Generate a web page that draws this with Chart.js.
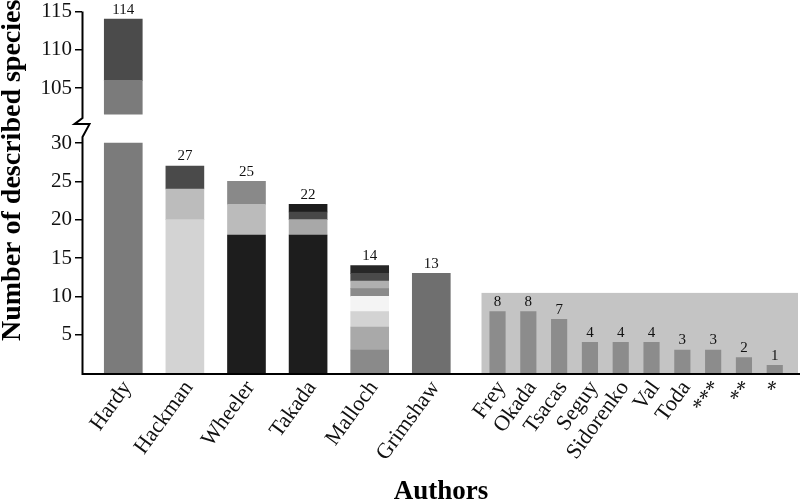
<!DOCTYPE html>
<html>
<head>
<meta charset="utf-8">
<style>
  html, body { margin: 0; padding: 0; background: #ffffff; }
  #wrap { width: 800px; height: 501px; }
</style>
<script src="https://cdn.jsdelivr.net/npm/chart.js@4/dist/chart.umd.min.js"></script>
</head>
<body>
<div id="wrap"><canvas id="c" width="800" height="501"></canvas></div>
<script>
// ---------------- DATA ----------------
const bigAuthors = ['Hardy', 'Hackman', 'Wheeler', 'Takada', 'Malloch', 'Grimshaw'];
const smallAuthors = ['Frey', 'Okada', 'Tsacas', 'Seguy', 'Sidorenko', 'Val', 'Toda', '***', '**', '*'];

// species per sub-group, stacked from the bottom
const hardySegments    = [106, 8];
const hackmanSegments  = [20, 4, 3];
const wheelerSegments  = [18, 4, 3];
const takadaSegments   = [18, 2, 1, 1];
const mallochSegments  = [3, 3, 2, 2, 1, 1, 1, 1];
const grimshawSegments = [13];

const smallTotals = [8, 8, 7, 4, 4, 4, 3, 3, 2, 1];

const lowerTickLabels = [5, 10, 15, 20, 25, 30];
const upperTickLabels = [105, 110, 115];

const xTitle = 'Authors';
const yTitle = 'Number of described species';

// ---------------- STYLE / LAYOUT ----------------
const segmentColors = [
  ['#7b7b7b', '#4b4b4b'],
  ['#d3d3d3', '#bcbcbc', '#4a4a4a'],
  ['#1d1d1d', '#bbbbbb', '#898989'],
  ['#1d1d1d', '#a8a8a8', '#474747', '#1d1d1d'],
  ['#8a8a8a', '#a9a9a9', '#d3d3d3', '#f4f4f4', '#8a8a8a', '#b0b0b0', '#4a4a4a', '#272727'],
  ['#6f6f6f']
];
const smallColor = '#8c8c8c';
const insetColor = '#c4c4c4';
const SERIF = '"Liberation Serif", "Times New Roman", serif';

// broken axis
const BREAK_LOW = 30;      // lower part ends here
const BREAK_HIGH = 101.6;  // upper part starts here
const SHIFT = 67.83;       // display = value - SHIFT in the upper part
const toDisplay = v => (v <= BREAK_LOW ? v : v - SHIFT);
const Y_MAX = toDisplay(115);
const INSET_TOP = 10.45;

// x layout (slot units)
const SMALL_START = 12.15;
const X_MIN = -1.34, X_MAX = 21.97;
const bigPos = bigAuthors.map((_, i) => 2 * i);
const smallPos = smallAuthors.map((_, j) => SMALL_START + j);
const allAuthors = bigAuthors.concat(smallAuthors);
const allPos = bigPos.concat(smallPos);

function pieces(start, end) {
  const out = [];
  if (start < BREAK_LOW) out.push([start, Math.min(end, BREAK_LOW)]);
  if (end > BREAK_HIGH) out.push([Math.max(start, BREAK_HIGH) - SHIFT, end - SHIFT]);
  return out;
}

const bigSegments = [hardySegments, hackmanSegments, wheelerSegments, takadaSegments, mallochSegments, grimshawSegments];
const datasets = [];
const totals = [];
bigSegments.forEach((segs, i) => {
  let acc = 0;
  segs.forEach((s, k) => {
    pieces(acc, acc + s).forEach(p => {
      datasets.push({
        label: bigAuthors[i] + ' ' + (k + 1),
        data: [{ x: bigPos[i], y: p }],
        backgroundColor: segmentColors[i][k],
        barThickness: 38,
        grouped: false
      });
    });
    acc += s;
  });
  totals.push({ x: bigPos[i], total: acc });
});
datasets.push({
  label: 'others',
  data: smallTotals.map((v, j) => ({ x: smallPos[j], y: [0, v] })),
  backgroundColor: smallColor,
  barThickness: 15.5,
  grouped: false
});
smallTotals.forEach((v, j) => totals.push({ x: smallPos[j], total: v }));

const yTickValues = lowerTickLabels.concat(upperTickLabels).map(toDisplay);
const yTickText = lowerTickLabels.concat(upperTickLabels).map(String);

const decor = {
  id: 'decor',
  beforeDatasetsDraw(chart) {
    const { ctx, scales: { x, y }, chartArea } = chart;
    ctx.save();
    ctx.fillStyle = insetColor;
    const left = x.getPixelForValue(SMALL_START - 0.52);
    const top = y.getPixelForValue(INSET_TOP);
    ctx.fillRect(left, top, chartArea.right - 2 - left, chartArea.bottom - top);
    ctx.restore();
  },
  afterDatasetsDraw(chart) {
    const { ctx, scales: { x, y }, chartArea } = chart;
    ctx.save();
    // value labels
    ctx.fillStyle = '#111';
    ctx.font = '15px ' + SERIF;
    ctx.textAlign = 'center';
    ctx.textBaseline = 'bottom';
    totals.forEach(t => {
      ctx.fillText(String(t.total), x.getPixelForValue(t.x), y.getPixelForValue(toDisplay(t.total)) - 2);
    });
    // axes with break mark
    ctx.strokeStyle = '#000';
    ctx.lineWidth = 2;
    const ax = chartArea.left + 0.5;
    const yb = chartArea.bottom;
    const yTopBreak = y.getPixelForValue(BREAK_HIGH - SHIFT);
    ctx.beginPath();
    ctx.moveTo(ax, chartArea.top);
    ctx.lineTo(ax, yTopBreak + 4);
    ctx.lineTo(ax - 8, yTopBreak + 10);
    ctx.lineTo(ax + 7, yTopBreak + 10);
    ctx.lineTo(ax, yTopBreak + 23);
    ctx.lineTo(ax, yb + 1);
    ctx.lineTo(chartArea.right, yb + 1);
    ctx.stroke();
    // axis titles
    ctx.fillStyle = '#000';
    ctx.font = 'bold 27px ' + SERIF;
    ctx.textAlign = 'center';
    ctx.textBaseline = 'alphabetic';
    ctx.fillText(xTitle, (chartArea.left + chartArea.right) / 2, 499);
    ctx.save();
    ctx.translate(20, 341);
    ctx.rotate(-Math.PI / 2);
    ctx.font = 'bold 28px ' + SERIF;
    ctx.textAlign = 'left';
    ctx.fillText(yTitle, 0, 0);
    ctx.restore();
    ctx.restore();
  }
};

new Chart(document.getElementById('c'), {
  type: 'bar',
  data: { datasets },
  options: {
    responsive: false,
    devicePixelRatio: 1,
    animation: false,
    layout: { padding: 0 },
    plugins: { legend: { display: false }, tooltip: { enabled: false } },
    scales: {
      x: {
        type: 'linear',
        offset: false,
        min: X_MIN,
        max: X_MAX,
        afterFit(scale) { scale.height = 128; },
        afterBuildTicks(scale) { scale.ticks = allPos.map(v => ({ value: v })); },
        grid: { display: false, drawTicks: false },
        border: { display: false },
        ticks: {
          autoSkip: false,
          minRotation: 54,
          maxRotation: 54,
          padding: 3,
          labelOffset: 4,
          color: '#111',
          font: { family: SERIF, size: 22 },
          callback: (v, i) => allAuthors[i]
        }
      },
      y: {
        type: 'linear',
        min: 0,
        max: Y_MAX,
        afterFit(scale) { scale.width = 82; },
        afterBuildTicks(scale) { scale.ticks = yTickValues.map(v => ({ value: v })); },
        grid: { drawOnChartArea: false, drawTicks: true, tickLength: 7, color: '#000', lineWidth: 1.5 },
        border: { display: false },
        ticks: {
          padding: 3,
          color: '#111',
          font: { family: SERIF, size: 21, lineHeight: 0.8 },
          callback: (v, i) => yTickText[i]
        }
      }
    }
  },
  plugins: [decor]
});
</script>
</body>
</html>
